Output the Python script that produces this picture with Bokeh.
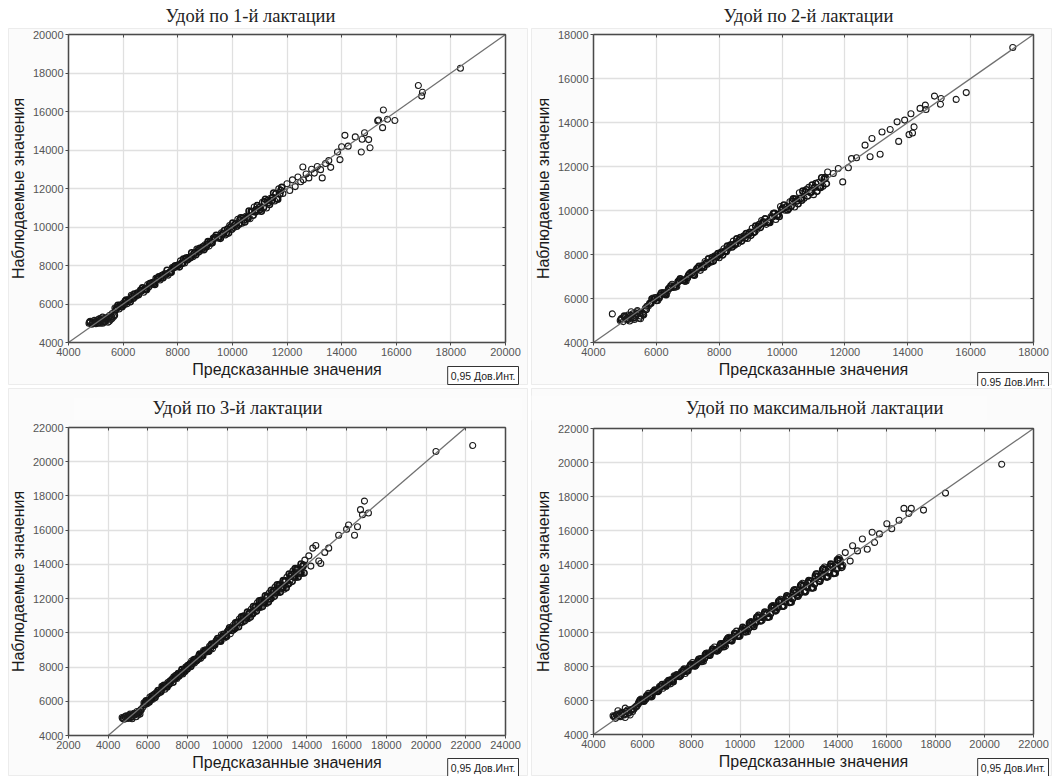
from bokeh.plotting import figure
from bokeh.layouts import gridplot
from bokeh.models import Range1d, FixedTicker, Label, LinearAxis, Grid, BoxAnnotation
from bokeh.embed import file_html
from bokeh.resources import INLINE

# ---------------- texts ----------------
titles = ["Удой по 1-й лактации", "Удой по 2-й лактации",
          "Удой по 3-й лактации", "Удой по максимальной лактации"]
x_label = "Предсказанные значения"
y_label = "Наблюдаемые значения"
ci_label = "0,95 Дов.Инт."

# ---------------- tick labels ----------------
ticks_4_20 = [4000, 6000, 8000, 10000, 12000, 14000, 16000, 18000, 20000]
ticks_4_18 = [4000, 6000, 8000, 10000, 12000, 14000, 16000, 18000]
ticks_2_24 = [2000, 4000, 6000, 8000, 10000, 12000, 14000, 16000, 18000, 20000, 22000, 24000]
ticks_4_22 = [4000, 6000, 8000, 10000, 12000, 14000, 16000, 18000, 20000, 22000]

# ======================= panel 1: 1st lactation =======================
pred1 = [4750, 4800, 4850, 4900, 4950, 5000, 5050, 5100, 5150, 5200, 5250, 5300, 5350,
         5400, 5450, 5500, 5550, 5600, 5650, 5150, 5250, 5400, 5500, 5300, 5600,
         5700, 5850, 6000, 6150, 6300, 6450, 6600, 6750, 6900, 7050, 7200, 7350, 7500, 7650,
         7800, 7950, 8100, 8250, 8400, 8550, 8700, 8850, 9000, 9150, 9300, 9450, 9600, 9750,
         9900, 10050, 10200, 10350, 10500, 10650, 10800, 10950, 11100, 11250, 11400, 11550,
         11700, 11850,
         12000, 12100, 12200, 12300, 12400, 12500, 12580, 12600, 12700, 12800,
         12900, 13000, 13110, 13230, 13290, 13410, 13530, 13600, 13850, 13940,
         14000, 14120, 14240, 14500, 14720, 14750, 14840, 14990, 15040, 15320,
         15350, 15500, 15530, 15680, 15950, 16810, 16930, 16960, 18350]
obs1 = [5000, 5100, 4950, 5050, 5150, 4980, 5100, 5200, 5000, 5120, 5000, 5250, 5100,
        5300, 5050, 5400, 5200, 5500, 5350, 5250, 5320, 5180, 5100, 5050, 5250,
        5790, 5740, 6040, 6020, 6450, 6390, 6620, 6610, 7010, 7020, 7330, 7250, 7560, 7500,
        7900, 7930, 8240, 8130, 8430, 8460, 8850, 8800, 9080, 9010, 9420, 9440, 9700, 9590,
        10070, 9970, 10400, 10200, 10560, 10430, 11040, 10830, 11280, 10990, 11490, 11350,
        11980, 11740,
        12250, 11900, 12450, 12100, 12600, 12350, 13120, 12450, 12750, 12550,
        13000, 12800, 13140, 12980, 12550, 13300, 13450, 13100, 13900, 13500,
        14170, 14760, 14200, 14680, 13900, 14560, 14900, 14540, 14120, 15520,
        15560, 15160, 16080, 15600, 15530, 17350, 16800, 17000, 18250]
pred1_b = [5775, 5925, 6075, 6225, 6375, 6525, 6675, 6825, 6975, 7125, 7275, 7425, 7575,
           7725, 7875, 8025, 8175, 8325, 8475, 8625, 8775, 8925, 9075, 9225, 9375, 9525,
           9675, 9825, 9975, 10125, 10275, 10425, 10575, 10725, 10875, 11025, 11175,
           11325, 11475, 11625, 11775]
obs1_b = [5805, 5875, 6135, 6205, 6305, 6565, 6685, 6785, 7045, 7065, 7295, 7475, 7545,
          7645, 7935, 8025, 8125, 8405, 8435, 8655, 8705, 8975, 9095, 9165, 9465, 9495,
          9665, 9895, 9885, 10165, 10375, 10365, 10455, 10805, 10905, 10915, 11305,
          11275, 11535, 11475, 11895]
pred1_c = [4780, 4880, 4980, 5080, 5180, 5280, 5380, 5480, 5580, 5680,
           5740, 5890, 6040, 6190, 6340, 6490, 6640, 6790, 6940, 7090,
           7240, 7390, 7540, 7690, 7840, 7990, 8140, 8290, 8440, 8590,
           8740, 8890, 9040, 9190, 9340, 9490, 9640, 9790, 9940, 10090,
           10240, 10390, 10540, 10690, 10840, 10990, 11140, 11290, 11440, 11590, 11740]
obs1_c = [5060, 5000, 5080, 5030, 5160, 5090, 5220, 5280, 5330, 5420,
          5720, 5930, 5980, 6200, 6390, 6460, 6710, 6780, 6890, 7120,
          7300, 7350, 7560, 7620, 7880, 8000, 8110, 8350, 8380, 8610,
          8790, 8870, 8960, 9230, 9410, 9440, 9650, 9700, 10000, 10120,
          10140, 10470, 10500, 10800, 10780, 11010, 11010, 11380, 11370, 11730, 11710]
pred1_d = [5810, 5960, 6110, 6260, 6410, 6560, 6710, 6860, 7010, 7160,
           7310, 7460, 7610, 7760, 7910, 8060, 8210, 8360, 8510, 8660,
           8810, 8960, 9110, 9260, 9410, 9560, 9710, 9860, 10010, 10160,
           10310, 10460, 10610, 10760, 10910, 11060, 11210, 11360, 11510, 11660, 11810]
obs1_d = [5930, 5860, 6200, 6120, 6520, 6480, 6840, 6740, 7070, 7010,
          7410, 7370, 7750, 7650, 7990, 7930, 8330, 8290, 8660, 8560,
          8900, 8820, 9240, 9180, 9570, 9410, 9820, 9680, 10200, 10040,
          10480, 10260, 10830, 10610, 11110, 10820, 11440, 11170, 11770, 11440, 12060]

# ======================= panel 2: 2nd lactation =======================
pred2 = [4600, 4850, 4900, 4950, 5000, 5050, 5100, 5150, 5200, 5250, 5300, 5350, 5400,
         5450, 5500, 5550, 5600, 5650, 5100, 5250, 5400, 5500, 5700, 5200,
         5750, 5900, 6050, 6200, 6350, 6500, 6650, 6800, 6950, 7100, 7250, 7400, 7550, 7700,
         7850, 8000, 8150, 8300, 8450, 8600, 8750, 8900, 9050, 9200, 9350, 9500, 9650, 9800,
         9950, 10100, 10250, 10400, 10550, 10700, 10850, 11000, 11150, 11300, 11450,
         11360, 11630, 11790, 11930, 12110, 12210, 12370, 12640, 12800, 12860,
         13120, 13180, 13440, 13660, 13710, 13900, 14040, 14100, 14150, 14200,
         14390, 14560, 14580, 14850, 15040, 15060, 15540, 15860, 17340]
obs2 = [5300, 5000, 5100, 4950, 5150, 5050, 5250, 4980, 5120, 5300, 5050, 5200, 5400,
        5100, 5080, 5350, 5250, 5550, 5050, 5180, 5450, 5200, 5650, 5400,
        5670, 6020, 5910, 6260, 6320, 6650, 6540, 6840, 6790, 7190, 7270, 7280, 7680, 7650,
        7930, 7850, 8260, 8280, 8610, 8500, 8800, 8730, 9190, 9140, 9540, 9370, 9730, 9590,
        10180, 10010, 10400, 10160, 10810, 10560, 11050, 10720, 11270, 11100, 11750,
        11450, 11680, 11910, 11300, 11940, 12360, 12400, 12970, 12440, 13270,
        12560, 13570, 13680, 14030, 13140, 14110, 13450, 14400, 13520, 13800,
        14640, 14790, 14590, 15200, 14830, 15090, 15050, 15360, 17410]
pred2_b = [5825, 5975, 6125, 6275, 6425, 6575, 6725, 6875, 7025, 7175, 7325, 7475, 7625,
           7775, 7925, 8075, 8225, 8375, 8525, 8675, 8825, 8975, 9125, 9275, 9425, 9575,
           9725, 9875, 10025, 10175, 10325, 10475, 10625, 10775, 10925, 11075, 11225, 11375]
obs2_b = [5785, 6035, 6145, 6205, 6475, 6565, 6805, 6825, 7055, 7095, 7385, 7485, 7565,
          7865, 7895, 8115, 8135, 8445, 8505, 8775, 8755, 9005, 9015, 9365, 9445, 9455,
          9865, 9815, 10105, 10025, 10435, 10435, 10465, 10945, 10835, 11225, 11045, 11495]
pred2_c = [4880, 4980, 5080, 5180, 5280, 5380, 5480, 5580, 5680,
           5790, 5940, 6090, 6240, 6390, 6540, 6690, 6840, 6990, 7140,
           7290, 7440, 7590, 7740, 7890, 8040, 8190, 8340, 8490, 8640,
           8790, 8940, 9090, 9240, 9390, 9540, 9690, 9840, 9990, 10140,
           10290, 10440, 10590, 10740, 10890, 11040, 11190, 11340]
obs2_c = [5050, 5200, 5100, 5230, 5120, 5300, 5350, 5280, 5500,
          5770, 5980, 6030, 6250, 6440, 6510, 6760, 6830, 6940, 7170,
          7350, 7400, 7610, 7670, 7930, 8050, 8160, 8400, 8430, 8660,
          8840, 8920, 9010, 9280, 9460, 9490, 9700, 9750, 10050, 10170,
          10190, 10520, 10550, 10850, 10830, 11060, 11060, 11430]
pred2_d = [5860, 6010, 6160, 6310, 6460, 6610, 6760, 6910, 7060, 7210,
           7360, 7510, 7660, 7810, 7960, 8110, 8260, 8410, 8560, 8710,
           8860, 9010, 9160, 9310, 9460, 9610, 9760, 9910, 10060, 10210,
           10360, 10510, 10660, 10810, 10960, 11110, 11260, 11410]
obs2_d = [5980, 5910, 6250, 6170, 6570, 6530, 6890, 6790, 7120, 7060,
          7460, 7420, 7800, 7700, 8040, 7980, 8380, 8340, 8710, 8610,
          8950, 8870, 9290, 9230, 9620, 9460, 9870, 9730, 10250, 10090,
          10530, 10310, 10880, 10660, 11160, 10870, 11490, 11220]

# ======================= panel 3: 3rd lactation =======================
pred3 = [4700, 4800, 4900, 5000, 5100, 5200, 5300, 5400, 5500, 5600, 5000, 5150, 5300,
         5450, 5600, 5750,
         5800, 5950, 6100, 6250, 6400, 6550, 6700, 6850, 7000, 7150,
         7300, 7450, 7600, 7750, 7900, 8050, 8200, 8350, 8500, 8650,
         8800, 8950, 9100, 9250, 9400, 9550, 9700, 9850, 10000, 10150,
         10300, 10450, 10600, 10750, 10900, 11050, 11200, 11350, 11500, 11650,
         11800, 11950, 12100, 12250, 12400, 12550, 12700, 12850, 13000, 13150,
         13300, 13450, 13600, 13750, 13900,
         14100, 14300, 14450, 14200, 14600, 14700, 14900, 15100, 15600, 16000,
         16100, 16400, 16550, 16700, 16800, 16900, 17100, 20500, 22350]
obs3 = [5050, 4950, 5150, 5000, 5250, 4980, 5300, 5100, 5200, 5450, 5100, 5050, 5250,
        5400, 5250, 5650,
        5910, 5860, 6250, 6120, 6460, 6510, 6870, 6700, 7090, 7130,
        7430, 7330, 7640, 7590, 8000, 7990, 8350, 8240, 8520, 8510,
        8970, 8880, 9210, 9070, 9460, 9550, 9890, 9700, 10080, 9950,
        10440, 10390, 10810, 10620, 10950, 10830, 11380, 11260, 11750, 11480,
        11900, 11710, 12320, 12130, 12680, 12350, 12850, 12550, 13260, 13050,
        13620, 13230, 13780, 13470, 14250,
        14500, 14950, 15100, 13900, 14200, 14050, 14700, 14950, 15700, 16050,
        16300, 15700, 16200, 17200, 16900, 17700, 17000, 20600, 20950]
pred3_b = [5875, 6025, 6175, 6325, 6475, 6625, 6775, 6925, 7075, 7225,
           7375, 7525, 7675, 7825, 7975, 8125, 8275, 8425, 8575, 8725,
           8875, 9025, 9175, 9325, 9475, 9625, 9775, 9925, 10075, 10225,
           10375, 10525, 10675, 10825, 10975, 11125, 11275, 11425, 11575, 11725,
           11875, 12025, 12175, 12325, 12475, 12625, 12775, 12925, 13075, 13225,
           13375, 13525, 13675, 13825]
obs3_b = [5915, 5965, 6195, 6395, 6435, 6545, 6825, 6935, 7005, 7285,
          7355, 7615, 7625, 7855, 7885, 8195, 8275, 8365, 8675, 8685,
          8925, 8925, 9255, 9295, 9585, 9555, 9795, 9805, 10165, 10265,
          10245, 10635, 10615, 10975, 10875, 11185, 11125, 11555, 11535, 11895,
          11755, 12105, 11995, 12475, 12385, 12825, 12615, 13035, 12865, 13405,
          13255, 13755, 13485, 13965]
pred3_c = [4750, 4850, 4950, 5050, 5150, 5250, 5350, 5450, 5550, 5650,
           5840, 5990, 6140, 6290, 6440, 6590, 6740, 6890, 7040, 7190,
           7340, 7490, 7640, 7790, 7940, 8090, 8240, 8390, 8540, 8690,
           8840, 8990, 9140, 9290, 9440, 9590, 9740, 9890, 10040, 10190,
           10340, 10490, 10640, 10790, 10940, 11090, 11240, 11390, 11540, 11690,
           11840, 11990, 12140, 12290, 12440, 12590, 12740, 12890, 13040, 13190,
           13340, 13490, 13640, 13790]
obs3_c = [5000, 5100, 5050, 5150, 5100, 5200, 5250, 5300, 5350, 5500,
          5820, 6030, 6080, 6300, 6490, 6560, 6810, 6880, 6990, 7220,
          7400, 7450, 7660, 7720, 7980, 8100, 8210, 8450, 8480, 8710,
          8890, 8970, 9060, 9330, 9510, 9540, 9750, 9800, 10100, 10220,
          10240, 10570, 10600, 10900, 10880, 11110, 11110, 11480, 11470, 11830,
          11810, 12090, 11990, 12350, 12330, 12750, 12660, 13020, 12860, 13310,
          13280, 13680, 13500, 13880]
pred3_d = [5910, 6060, 6210, 6360, 6510, 6660, 6810, 6960, 7110, 7260,
           7410, 7560, 7710, 7860, 8010, 8160, 8310, 8460, 8610, 8760,
           8910, 9060, 9210, 9360, 9510, 9660, 9810, 9960, 10110, 10260,
           10410, 10560, 10710, 10860, 11010, 11160, 11310, 11460, 11610, 11760,
           11910, 12060, 12210, 12360, 12510, 12660, 12810, 12960, 13110, 13260,
           13410, 13560, 13710, 13860]
obs3_d = [6030, 5960, 6300, 6220, 6620, 6580, 6940, 6840, 7170, 7110,
          7510, 7470, 7850, 7750, 8090, 8030, 8430, 8390, 8760, 8660,
          9000, 8920, 9340, 9280, 9670, 9510, 9920, 9780, 10300, 10140,
          10580, 10360, 10930, 10710, 11210, 10920, 11540, 11270, 11870, 11540,
          12160, 11800, 12490, 12130, 12810, 12380, 13050, 12640, 13440, 13010,
          13750, 13260, 14020, 13500]

# ======================= panel 4: maximal lactation =======================
pred4 = [4800, 4900, 5000, 5100, 5200, 5300, 5400, 5500, 5600, 5700, 5000, 5150, 5300,
         5450, 5600, 5250,
         5800, 5950, 6100, 6250, 6400, 6550, 6700, 6850, 7000, 7150,
         7300, 7450, 7600, 7750, 7900, 8050, 8200, 8350, 8500, 8650,
         8800, 8950, 9100, 9250, 9400, 9550, 9700, 9850, 10000, 10150,
         10300, 10450, 10600, 10750, 10900, 11050, 11200, 11350, 11500, 11650,
         11800, 11950, 12100, 12250, 12400, 12550, 12700, 12850, 13000, 13150,
         13300, 13450, 13600, 13750, 13900, 14050, 14200,
         14300, 14500, 14600, 14800, 15000, 15200, 15400, 15500, 15700, 16000,
         16200, 16500, 16700, 16900, 17000, 17500, 18400, 20700]
obs4 = [5100, 4950, 5200, 5050, 5300, 5000, 5450, 5150, 5350, 5600, 5400, 5300, 5550,
        5250, 5500, 5150,
        5700, 6090, 6040, 6420, 6250, 6600, 6820, 6720, 7080, 6980,
        7450, 7410, 7700, 7590, 7930, 8230, 8080, 8410, 8310, 8790,
        8780, 9150, 8950, 9340, 9190, 9720, 9640, 10080, 9820, 10250,
        10050, 10650, 10520, 11020, 10700, 11170, 10910, 11590, 11360, 11960,
        11570, 12110, 11780, 12530, 12220, 12900, 12440, 13050, 12620, 13450,
        13150, 13850, 13300, 13970, 13480, 14400, 13950,
        14700, 14200, 15100, 14800, 15500, 14900, 15900, 15300, 15800, 16400,
        16100, 16600, 17300, 17000, 17300, 17200, 18200, 19900]
pred4_b = [5875, 6025, 6175, 6325, 6475, 6625, 6775, 6925, 7075, 7225,
           7375, 7525, 7675, 7825, 7975, 8125, 8275, 8425, 8575, 8725,
           8875, 9025, 9175, 9325, 9475, 9625, 9775, 9925, 10075, 10225,
           10375, 10525, 10675, 10825, 10975, 11125, 11275, 11425, 11575, 11725,
           11875, 12025, 12175, 12325, 12475, 12625, 12775, 12925, 13075, 13225,
           13375, 13525, 13675, 13825, 13975, 14125]
obs4_b = [5925, 5995, 6255, 6265, 6495, 6535, 6835, 6905, 7175, 7155,
          7405, 7415, 7765, 7785, 8095, 8045, 8315, 8295, 8685, 8675,
          9025, 8925, 9235, 9165, 9605, 9555, 9955, 9805, 10155, 10035,
          10535, 10435, 10885, 10675, 11075, 10895, 11465, 11315, 11825, 11545,
          12005, 11765, 12395, 12185, 12765, 12425, 12935, 12615, 13325, 13055,
          13705, 13285, 13865, 13475, 14255, 13925]
pred4_c = [4850, 4950, 5050, 5150, 5250, 5350, 5450, 5550, 5650, 5750,
           5840, 5990, 6140, 6290, 6440, 6590, 6740, 6890, 7040, 7190,
           7340, 7490, 7640, 7790, 7940, 8090, 8240, 8390, 8540, 8690,
           8840, 8990, 9140, 9290, 9440, 9590, 9740, 9890, 10040, 10190,
           10340, 10490, 10640, 10790, 10940, 11090, 11240, 11390, 11540, 11690,
           11840, 11990, 12140, 12290, 12440, 12590, 12740, 12890, 13040, 13190,
           13340, 13490, 13640, 13790, 13940, 14090]
obs4_c = [5050, 5150, 5100, 5250, 5200, 5350, 5300, 5450, 5500, 5650,
          5820, 6030, 6080, 6300, 6490, 6560, 6810, 6880, 6990, 7220,
          7400, 7450, 7660, 7720, 7980, 8100, 8210, 8450, 8480, 8710,
          8890, 8970, 9060, 9330, 9510, 9540, 9750, 9800, 10100, 10220,
          10240, 10570, 10600, 10900, 10880, 11110, 11110, 11480, 11470, 11830,
          11810, 12090, 11990, 12350, 12330, 12750, 12660, 13020, 12860, 13310,
          13280, 13680, 13500, 13880, 13740, 14240]
pred4_d = [5910, 6060, 6210, 6360, 6510, 6660, 6810, 6960, 7110, 7260,
           7410, 7560, 7710, 7860, 8010, 8160, 8310, 8460, 8610, 8760,
           8910, 9060, 9210, 9360, 9510, 9660, 9810, 9960, 10110, 10260,
           10410, 10560, 10710, 10860, 11010, 11160, 11310, 11460, 11610, 11760,
           11910, 12060, 12210, 12360, 12510, 12660, 12810, 12960, 13110, 13260,
           13410, 13560, 13710, 13860, 14010, 14160]
obs4_d = [6030, 5960, 6300, 6220, 6620, 6580, 6940, 6840, 7170, 7110,
          7510, 7470, 7850, 7750, 8090, 8030, 8430, 8390, 8760, 8660,
          9000, 8920, 9340, 9280, 9670, 9510, 9920, 9780, 10300, 10140,
          10580, 10360, 10930, 10710, 11210, 10920, 11540, 11270, 11870, 11540,
          12160, 11800, 12490, 12130, 12810, 12380, 13050, 12640, 13440, 13010,
          13750, 13260, 14020, 13500, 14290, 13830]

SANS = "Liberation Sans"
SERIF = "Liberation Serif"
AX = "#4a4a4a"
PANEL_GRAY = "#f5f5f5"
HAS_CROSS = "cross_bounds" in Grid.properties()


def screen_box(H, x0, y0, x1, y1, **kw):
    """Box in canvas pixels measured from the top-left corner."""
    return BoxAnnotation(left=x0, right=x1, top=H - y0, bottom=H - y1,
                         left_units="screen", right_units="screen",
                         top_units="screen", bottom_units="screen", **kw)


def make_panel(pred, obs, band_pred, band_obs, title, xt, yt, W, H, box, title_xy, ci_xy,
               panel_rect, title_rect=None):
    bx0, by0, bx1, by1 = box
    xlo, xhi = xt[0], xt[-1]
    ylo, yhi = yt[0], yt[-1]
    sx = (xhi - xlo) / (bx1 - bx0)
    sy = (yhi - ylo) / (by1 - by0)
    p = figure(width=W, height=H,
               x_range=Range1d(xlo - bx0 * sx, xhi + (W - bx1) * sx),
               y_range=Range1d(ylo - (H - by1) * sy, yhi + by0 * sy),
               x_axis_type=None, y_axis_type=None, title=None,
               output_backend="svg", toolbar_location=None, min_border=0,
               background_fill_color="white", border_fill_color="white")
    p.min_border_left = p.min_border_right = p.min_border_top = p.min_border_bottom = 0
    p.outline_line_color = None

    if HAS_CROSS:
        p.add_layout(screen_box(H, *panel_rect, fill_color=PANEL_GRAY, line_color="#c6c6c6",
                                line_width=1, level="image"))
        if title_rect is not None:
            p.add_layout(screen_box(H, *title_rect, fill_color="white", line_color=None,
                                    level="image"))
    p.add_layout(BoxAnnotation(left=xlo, right=xhi, bottom=ylo, top=yhi, fill_color="white",
                               fill_alpha=1, line_color=None, level="image"))

    gx = Grid(dimension=0, ticker=FixedTicker(ticks=xt), bounds=(xlo, xhi),
              grid_line_color="#e0e0e0", grid_line_width=1.3)
    gy = Grid(dimension=1, ticker=FixedTicker(ticks=yt), bounds=(ylo, yhi),
              grid_line_color="#e0e0e0", grid_line_width=1.3)
    if HAS_CROSS:
        gx.cross_bounds = (ylo, yhi)
        gy.cross_bounds = (xlo, xhi)
    p.add_layout(gx)
    p.add_layout(gy)
    if not HAS_CROSS:
        for kw in (dict(right=xlo), dict(left=xhi), dict(left=xlo, right=xhi, top=ylo),
                   dict(left=xlo, right=xhi, bottom=yhi)):
            p.add_layout(BoxAnnotation(fill_color=PANEL_GRAY, fill_alpha=1, line_color=None,
                                       level="underlay", **kw))

    common = dict(axis_line_color=AX, axis_line_width=1.5, major_tick_line_color=AX,
                  minor_tick_line_color=None, major_label_text_font=SANS,
                  major_label_text_font_size="11px", major_label_text_color="#555555",
                  axis_label_text_font=SANS, axis_label_text_font_size="16px",
                  axis_label_text_font_style="normal", axis_label_text_color="#1a1a1a")
    xa = LinearAxis(fixed_location=ylo, bounds=(xlo, xhi), ticker=FixedTicker(ticks=xt),
                    axis_label=x_label, major_tick_in=0, major_tick_out=3,
                    major_label_standoff=2, axis_label_standoff=2, **common)
    ya = LinearAxis(fixed_location=xlo, bounds=(ylo, yhi), ticker=FixedTicker(ticks=yt),
                    axis_label=y_label, major_tick_in=0, major_tick_out=3,
                    major_label_standoff=2, axis_label_standoff=3, **common)
    p.add_layout(xa, "below")
    p.add_layout(ya, "left")
    ta = LinearAxis(fixed_location=yhi, bounds=(xlo, xhi), ticker=FixedTicker(ticks=xt),
                    major_tick_in=3, major_tick_out=0, major_label_text_color=None,
                    axis_line_color=AX, axis_line_width=1.5, major_tick_line_color=AX,
                    minor_tick_line_color=None)
    ra = LinearAxis(fixed_location=xhi, bounds=(ylo, yhi), ticker=FixedTicker(ticks=yt),
                    major_tick_in=3, major_tick_out=0, major_label_text_color=None,
                    axis_line_color=AX, axis_line_width=1.5, major_tick_line_color=AX,
                    minor_tick_line_color=None)
    p.add_layout(ta, "above")
    p.add_layout(ra, "right")

    # the dense core of the cloud (many overlapping observations)
    p.scatter(band_pred, band_obs, marker="circle", size=6, fill_color=None,
              line_color="#111111", line_width=1.6)
    p.scatter(pred, obs, marker="circle", size=6, fill_color=None,
              line_color="#1a1a1a", line_width=1.1)
    lo = max(xlo, ylo)
    hi = min(xhi, yhi)
    p.line([lo, hi], [lo, hi], line_color="#707070", line_width=1.3)

    p.add_layout(Label(x=title_xy[0], y=H - title_xy[1], x_units="screen", y_units="screen",
                       text=title, text_font=SERIF, text_font_size="18.5px",
                       text_color="#222222", text_align="center", text_baseline="middle"))
    p.add_layout(Label(x=ci_xy[0], y=H - ci_xy[1], x_units="screen", y_units="screen",
                       text=ci_label, text_font=SANS, text_font_size="10.5px",
                       text_color="#222222", text_align="right", text_baseline="middle",
                       background_fill_color="white", border_line_color="#333333",
                       border_line_width=1, padding=3))
    return p


p1 = make_panel(pred1, obs1, pred1_b + pred1_c + pred1_d, obs1_b + obs1_c + obs1_d,
                titles[0], ticks_4_20, ticks_4_20,
                530, 386, (68, 34, 505, 342), (250, 15), (518, 375),
                (8, 28, 527, 384))
p2 = make_panel(pred2, obs2, pred2_b + pred2_c + pred2_d, obs2_b + obs2_c + obs2_d,
                titles[1], ticks_4_18, ticks_4_18,
                523, 386, (63, 34, 503, 342), (278, 15), (518, 381),
                (1, 28, 521, 384))
p3 = make_panel(pred3, obs3, pred3_b + pred3_c + pred3_d, obs3_b + obs3_c + obs3_d,
                titles[2], ticks_2_24, ticks_4_22,
                530, 390, (68, 41, 505, 349), (237, 21.5), (518, 381),
                (8, 2, 527, 389), (73, 11, 522, 34))
p4 = make_panel(pred4, obs4, pred4_b + pred4_c + pred4_d, obs4_b + obs4_c + obs4_d,
                titles[3], ticks_4_22, ticks_4_22,
                523, 390, (63, 42, 503, 348), (284, 21.5), (518, 381),
                (1, 2, 521, 389), (0, 9, 457, 34))

grid = gridplot([[p1, p2], [p3, p4]], toolbar_location=None)
open("out.html", "w").write(file_html(grid, INLINE))
